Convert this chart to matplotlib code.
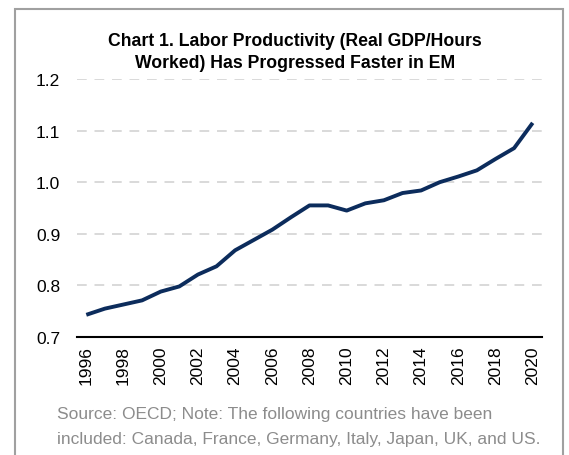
import matplotlib.pyplot as plt
from matplotlib.patches import Rectangle
import numpy as np

# Labor productivity index
years = list(range(1996, 2021))
productivity = [0.743, 0.755, 0.763, 0.771, 0.788, 0.798, 0.821, 0.837, 0.868, 0.888,
                0.908, 0.932, 0.955, 0.955, 0.945, 0.959, 0.965, 0.979, 0.984, 1.000,
                1.011, 1.023, 1.045, 1.066, 1.115]
yticks = [0.7, 0.8, 0.9, 1.0, 1.1, 1.2]
xticks = list(range(1996, 2021, 2))

plt.rcParams['font.family'] = ['Liberation Sans', 'DejaVu Sans']

W, H = 569, 456
fig = plt.figure(figsize=(W / 100, H / 100), dpi=100)
ax = fig.add_axes([77 / W, 1 - 338 / H, (542 - 77) / W, (338 - 80) / H])

ax.plot(years, productivity, color='#0c2c5c', linewidth=2.8, solid_capstyle='butt', zorder=3)

ax.set_xlim(1995.5, 2020.5)
ax.set_ylim(0.7, 1.2)
ax.set_yticks(yticks)
ax.set_yticklabels([f'{v:.1f}' for v in yticks])
ax.set_xticks(xticks)
ax.set_xticklabels([str(x) for x in xticks], rotation=90)

for v in yticks[1:]:
    ax.axhline(v, color='#d9d9d9', linewidth=1.4, dashes=(5, 4), zorder=1)

for s in ['left', 'right', 'top']:
    ax.spines[s].set_visible(False)
ax.spines['bottom'].set_color('black')
ax.spines['bottom'].set_linewidth(1.5)
ax.tick_params(axis='both', length=0, labelsize=12.5, colors='black')
ax.tick_params(axis='y', pad=12)
ax.tick_params(axis='x', pad=6)

fig.text(295 / W, 1 - 41 / H, 'Chart 1. Labor Productivity (Real GDP/Hours',
         ha='center', va='center', fontsize=12.7, fontweight='bold')
fig.text(295 / W, 1 - 63 / H, 'Worked) Has Progressed Faster in EM',
         ha='center', va='center', fontsize=12.7, fontweight='bold')

fig.text(57 / W, 1 - 415 / H, 'Source: OECD; Note: The following countries have been',
         ha='left', va='center', fontsize=12.5, color='#8c8c8c')
fig.text(57 / W, 1 - 440 / H, 'included: Canada, France, Germany, Italy, Japan, UK, and US.',
         ha='left', va='center', fontsize=12.5, color='#8c8c8c')

fig.patches.append(Rectangle((15 / W, -0.05), (563 - 15) / W, 1.05 - 10 / H,
                             transform=fig.transFigure, fill=False,
                             edgecolor='#a0a0a0', linewidth=1.5))

fig.savefig('out.png', dpi=100)
